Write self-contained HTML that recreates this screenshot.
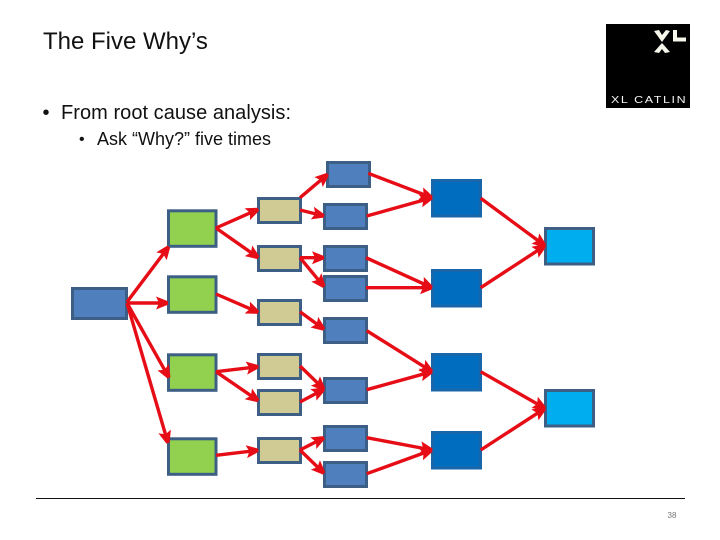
<!DOCTYPE html>
<html>
<head>
<meta charset="utf-8">
<title>The Five Why's</title>
<style>
html,body{margin:0;padding:0;background:#fff;}
body{width:720px;height:540px;overflow:hidden;position:relative;}
svg{position:absolute;left:0;top:0;}
text{font-family:"Liberation Sans",sans-serif;}
</style>
</head>
<body>
<svg width="720" height="540" viewBox="0 0 720 540" xmlns="http://www.w3.org/2000/svg">
<defs>
<marker id="a" markerUnits="userSpaceOnUse" markerWidth="16" markerHeight="16" refX="12" refY="7" orient="auto">
<polygon points="0,0.5 3,7 0,13.5 12,8.7 12,5.3" fill="#e60d16"/>
</marker>
</defs>

<text x="43" y="49" font-size="24" fill="#111">The Five Why’s</text>
<text x="42.5" y="119" font-size="20" fill="#111">•</text>
<text x="61" y="119" font-size="20" fill="#111" textLength="230">From root cause analysis:</text>
<text x="79" y="144" font-size="16" fill="#111">•</text>
<text x="97" y="145" font-size="18" fill="#111" textLength="174">Ask “Why?” five times</text>

<rect x="606" y="24" width="84" height="84" fill="#000"/>
<polygon points="654,31 659,30 662,35 666,30 670,31 662,42" fill="#f6f6ea"/>
<polygon points="662,43 670,52 665,53 662,49 659,53 654,52" fill="#f6f6ea"/>
<polygon points="673,30 677,30 677,37.5 686,37.5 686,41.5 673,41.5" fill="#f6f6ea"/>
<text transform="translate(611,103) scale(1.25,1)" font-size="10" letter-spacing="1.29" fill="#f4f4f4">XL CATLIN</text>

<g stroke="#3d5f86" stroke-width="3">
<rect x="72.5" y="288.5" width="54" height="30" fill="#4f7fbd"/>
<g fill="#92d050">
<rect x="168.5" y="210.8" width="47.5" height="35.5"/>
<rect x="168.5" y="276.8" width="47.5" height="35.5"/>
<rect x="168.5" y="354.8" width="47.5" height="35.5"/>
<rect x="168.5" y="438.8" width="47.5" height="35.5"/>
</g>
<g fill="#d0cb94">
<rect x="258.5" y="198.5" width="42" height="24"/>
<rect x="258.5" y="246.5" width="42" height="24"/>
<rect x="258.5" y="300.5" width="42" height="24"/>
<rect x="258.5" y="354.5" width="42" height="24"/>
<rect x="258.5" y="390.5" width="42" height="24"/>
<rect x="258.5" y="438.5" width="42" height="24"/>
</g>
<g fill="#4f7fbd">
<rect x="327.5" y="162.5" width="42" height="24"/>
<rect x="324.5" y="204.5" width="42" height="24"/>
<rect x="324.5" y="246.5" width="42" height="24"/>
<rect x="324.5" y="276.5" width="42" height="24"/>
<rect x="324.5" y="318.5" width="42" height="24"/>
<rect x="324.5" y="378.5" width="42" height="24"/>
<rect x="324.5" y="426.5" width="42" height="24"/>
<rect x="324.5" y="462.5" width="42" height="24"/>
</g>
<g fill="#006dbf" stroke="#1a66ab">
<rect x="432.5" y="180.5" width="48" height="35.5"/>
<rect x="432.5" y="270.5" width="48" height="35.5"/>
<rect x="432.5" y="354.5" width="48" height="35.5"/>
<rect x="432.5" y="432.5" width="48" height="35.5"/>
</g>
<g fill="#00aeef">
<rect x="545.5" y="228.5" width="48" height="35.5"/>
<rect x="545.5" y="390.5" width="48" height="35.5"/>
</g>
</g>

<g stroke="#e60d16" stroke-width="3.4" fill="none">
<line x1="127" y1="302" x2="168.7" y2="246.7" marker-end="url(#a)"/>
<line x1="127" y1="303" x2="168" y2="303" marker-end="url(#a)"/>
<line x1="127" y1="303" x2="169" y2="377.7" marker-end="url(#a)"/>
<line x1="127" y1="303" x2="168" y2="443" marker-end="url(#a)"/>

<line x1="216" y1="228" x2="258.3" y2="209.3" marker-end="url(#a)"/>
<line x1="216" y1="228" x2="258.3" y2="257.7" marker-end="url(#a)"/>
<line x1="216" y1="294" x2="258.3" y2="312.3" marker-end="url(#a)"/>
<line x1="216" y1="371.7" x2="258.3" y2="366.7" marker-end="url(#a)"/>
<line x1="216" y1="371.7" x2="258.3" y2="400.7" marker-end="url(#a)"/>
<line x1="216" y1="455.3" x2="258.3" y2="450.3" marker-end="url(#a)"/>

<line x1="300" y1="197.7" x2="327.7" y2="174.3" marker-end="url(#a)"/>
<line x1="300" y1="210" x2="324" y2="216" marker-end="url(#a)"/>
<line x1="300" y1="257.7" x2="324" y2="257.7" marker-end="url(#a)"/>
<line x1="300" y1="257.7" x2="324" y2="286.7" marker-end="url(#a)"/>
<line x1="300" y1="311.7" x2="324" y2="329.3" marker-end="url(#a)"/>
<line x1="300" y1="366" x2="324" y2="389.3" marker-end="url(#a)"/>
<line x1="300" y1="402" x2="324" y2="389.3" marker-end="url(#a)"/>
<line x1="300" y1="450" x2="324" y2="437.7" marker-end="url(#a)"/>
<line x1="300" y1="450" x2="324" y2="473.3" marker-end="url(#a)"/>

<line x1="368.3" y1="173.3" x2="432" y2="197.7" marker-end="url(#a)"/>
<line x1="366.7" y1="216" x2="432" y2="197.7" marker-end="url(#a)"/>
<line x1="366" y1="257.7" x2="432" y2="287.7" marker-end="url(#a)"/>
<line x1="366" y1="287.7" x2="432" y2="287.7" marker-end="url(#a)"/>
<line x1="366.7" y1="330.7" x2="432" y2="371.7" marker-end="url(#a)"/>
<line x1="366.7" y1="389.7" x2="432" y2="371.7" marker-end="url(#a)"/>
<line x1="366.7" y1="437.7" x2="432" y2="450" marker-end="url(#a)"/>
<line x1="366.7" y1="473.7" x2="432" y2="450" marker-end="url(#a)"/>

<line x1="480.7" y1="198.3" x2="545" y2="245.7" marker-end="url(#a)"/>
<line x1="480.7" y1="287.7" x2="545" y2="245.7" marker-end="url(#a)"/>
<line x1="480.7" y1="371.7" x2="545" y2="408.3" marker-end="url(#a)"/>
<line x1="480.7" y1="450" x2="545" y2="408.3" marker-end="url(#a)"/>
</g>

<rect x="36" y="498" width="649" height="1" fill="#111"/>
<text x="667.5" y="518" font-size="8" fill="#777">38</text>
</svg>
</body>
</html>
